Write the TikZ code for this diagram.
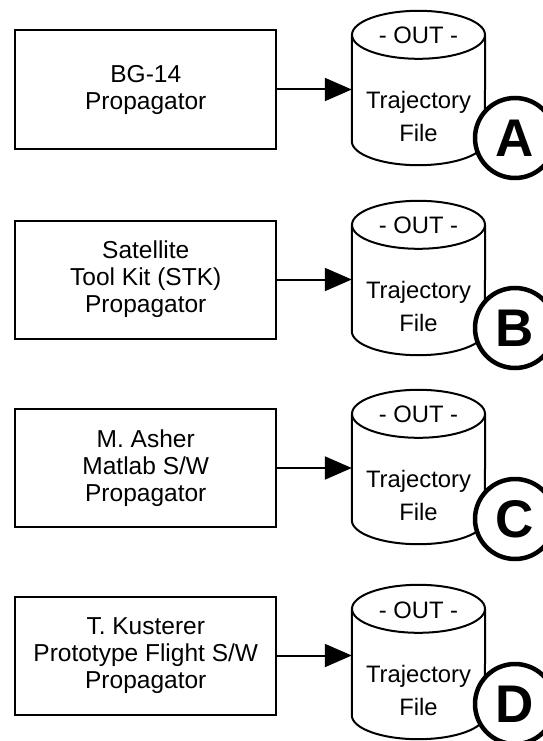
\documentclass[tikz,border=0pt]{standalone}
\usepackage{fontspec}
\setmainfont{Liberation Sans}
\usetikzlibrary{arrows.meta,calc}

\begin{document}
\begin{tikzpicture}[
    x=1pt, y=1pt,
    prop/.style={draw, line width=2pt, minimum width=261pt, minimum height=118pt, align=center, font=\fontsize{24.5}{27}\selectfont, inner sep=0pt},
    file/.style={minimum width=133pt, minimum height=154pt, inner sep=0pt},
    cyl/.style={line width=2pt},
    txt/.style={align=center, font=\fontsize{23.8}{33}\selectfont, inner sep=0pt},
    tag/.style={circle, draw, line width=4.5pt, fill=white, minimum size=80pt, inner sep=0pt, font=\fontsize{53}{53}\selectfont\bfseries},
    arr/.style={-{Triangle[length=27pt, width=23pt]}, line width=2pt}
]
\useasboundingbox (0,0) rectangle (542,-741);

\node[prop] (bg)  at (145.75,-89.5) {BG-14\\Propagator};
\node[prop] (stk) at (145.75,-279.5) {Satellite\\Tool Kit (STK)\\Propagator};
\node[prop] (msw) at (145.75,-468) {M. Asher\\Matlab S/W\\Propagator};
\node[prop] (tk)  at (145.75,-655.5) {T. Kusterer\\Prototype Flight S/W\\Propagator};

% output files
\foreach \lab/\src/\cy/\ty in {A/bg/-88/-138, B/stk/-278/-328, C/msw/-467/-519, D/tk/-662/-704}{
    \node[file] (f\lab) at (418.5,\cy) {};
    \draw[cyl] ([yshift=-24pt]f\lab.north west) -- ([yshift=24pt]f\lab.south west)
        arc[start angle=180, end angle=360, x radius=66.5pt, y radius=24pt]
        -- ([yshift=-24pt]f\lab.north east);
    \draw[cyl] ([yshift=-24pt]f\lab.north) ellipse[x radius=66.5pt, y radius=24pt];
    \node[txt] (o\lab) at ([yshift=-25pt]f\lab.north) {- OUT -};
    \node[txt] (t\lab) at ([yshift=-28.5pt]f\lab.center) {Trajectory\\File};
    \node[tag] (c\lab) at (515,\ty) {\lab};
    \draw[arr] (\src.east) -- (\src.east -| f\lab.west);
}
\end{tikzpicture}
\end{document}
